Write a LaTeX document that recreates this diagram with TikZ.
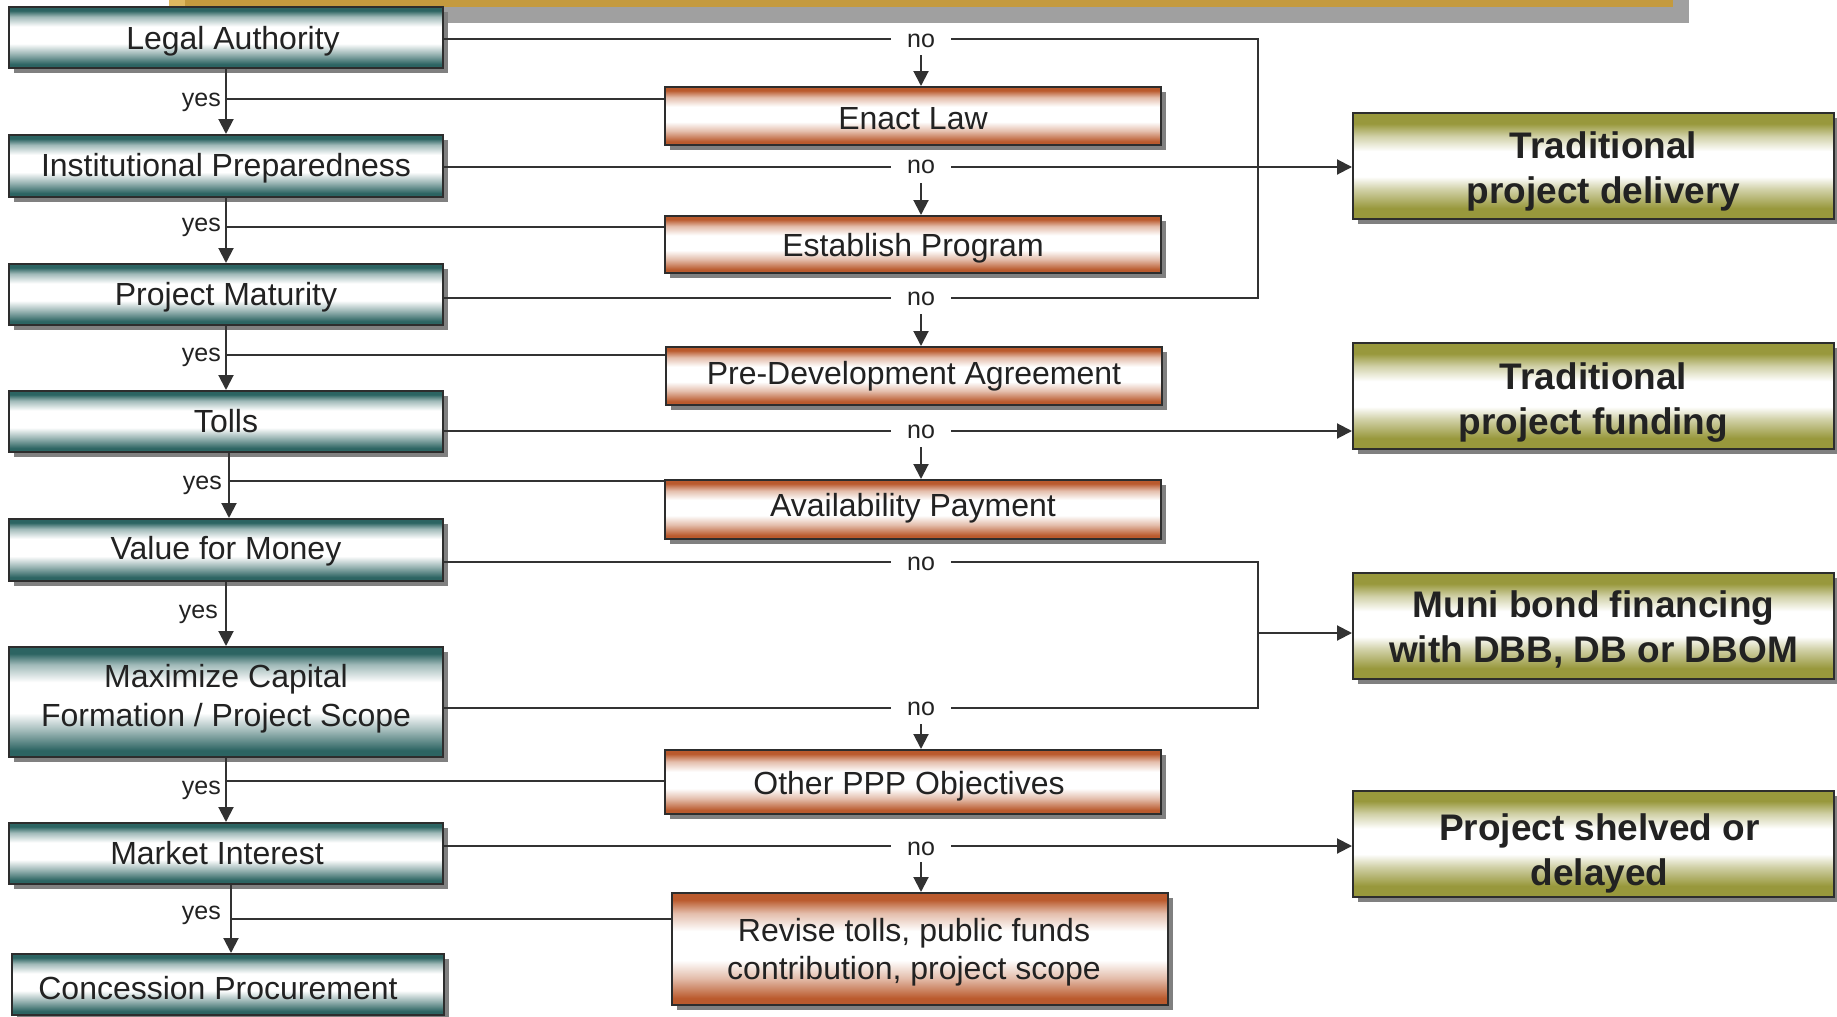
\documentclass[tikz,border=0pt]{standalone}
\usepackage{fontspec}
\setmainfont{Liberation Sans}
\usetikzlibrary{arrows.meta,shadows}
\definecolor{tealc}{RGB}{44,100,98}
\definecolor{orc}{RGB}{186,90,45}
\definecolor{olc}{RGB}{152,152,60}
\colorlet{tealm}{tealc!45!white}
\colorlet{orm}{orc!40!white}
\colorlet{olm}{olc!45!white}
\definecolor{goldc}{RGB}{196,154,62}
\definecolor{goldl}{RGB}{222,184,96}
\definecolor{topshad}{RGB}{160,160,160}
\definecolor{shadc}{RGB}{128,128,128}
\definecolor{linec}{RGB}{50,50,50}
\definecolor{bordc}{RGB}{45,45,45}
\definecolor{txtc}{RGB}{34,34,34}
\pgfdeclareverticalshading{tealsh}{100bp}{color(0bp)=(tealc); color(25bp)=(tealc); color(28bp)=(tealc); color(37bp)=(tealm); color(45bp)=(white); color(59bp)=(white); color(67bp)=(tealm); color(72bp)=(tealc); color(75bp)=(tealc); color(100bp)=(tealc)}
\pgfdeclareverticalshading{orsh}{100bp}{color(0bp)=(orc); color(25bp)=(orc); color(28bp)=(orc); color(37bp)=(orm); color(45bp)=(white); color(58bp)=(white); color(66bp)=(orm); color(72bp)=(orc); color(75bp)=(orc); color(100bp)=(orc)}
\pgfdeclareverticalshading{olsh}{100bp}{color(0bp)=(olc); color(25bp)=(olc); color(30bp)=(olc); color(39bp)=(olm); color(45bp)=(white); color(57bp)=(white); color(64bp)=(olm); color(70bp)=(olc); color(75bp)=(olc); color(100bp)=(olc)}
% lower a text inside its node without changing the node's size
\newcommand{\dn}[2]{\raisebox{-#1}[\height][\depth]{#2}}
\newcommand{\twol}[2]{\begin{tabular}{@{}c@{}}#1\\#2\end{tabular}}
\begin{document}
\begin{tikzpicture}[x=1pt,y=-1pt,
  ln/.style={draw=linec,line width=2pt},
  arr/.style={ln,-{Triangle[length=15pt,width=15pt]}},
  bx/.style={draw=bordc,line width=2pt,inner sep=0pt,text=txtc,shade,
    drop shadow={shadow xshift=5pt,shadow yshift=-5pt,fill=shadc,opacity=1}},
  lbox/.style={bx,shading=tealsh,minimum width=434pt,font=\fontsize{32}{39}\selectfont},
  obox/.style={bx,shading=orsh,minimum width=496pt,font=\fontsize{32}{38}\selectfont},
  gbox/.style={bx,shading=olsh,minimum width=481pt,minimum height=106pt,font=\bfseries\fontsize{37}{45}\selectfont},
  nolab/.style={inner xsep=16pt,inner ysep=9pt,text=txtc,font=\fontsize{25}{30}\selectfont},
  yeslab/.style={inner sep=0pt,anchor=east,text=txtc,font=\fontsize{25}{30}\selectfont}]
\useasboundingbox (0,0) rectangle (1837,1017);
% top banner (cut off)
\fill[topshad] (185,-10) rectangle (1689,23);
\fill[goldc] (169,-10) rectangle (1673,7);
\fill[goldl] (169,-10) rectangle (185,7);
% left column
\node[lbox,minimum height=61pt] (L1) at (226,37.5) {\dn{3.5pt}{\hspace*{14pt}Legal Authority}};
\node[lbox,minimum height=62pt] (L2) at (226,166) {\dn{2.3pt}{Institutional Preparedness}};
\node[lbox,minimum height=61pt] (L3) at (226,294.5) {\dn{2.3pt}{Project Maturity}};
\node[lbox,minimum height=61pt] (L4) at (226,421.5) {Tolls};
\node[lbox,minimum height=62pt] (L5) at (226,550) {\dn{1pt}{Value for Money}};
\node[lbox,minimum height=110pt] (L6) at (226,702) {\dn{-2.5pt}{\twol{Maximize Capital}{Formation / Project Scope}}};
\node[lbox,minimum height=61pt] (L7) at (226,853.5) {Market Interest\hspace*{18pt}};
\node[lbox,minimum width=432pt,minimum height=61pt] (L8) at (228,984.5) {\dn{3.5pt}{Concession Procurement\hspace*{20pt}}};
% middle column
\node[obox,minimum height=58pt] (O1) at (913,116) {\dn{2.3pt}{Enact Law}};
\node[obox,minimum height=57pt] (O2) at (913,244.5) {\dn{3.5pt}{Establish Program}};
\node[obox,minimum height=58pt] (O3) at (914,376) {Pre-Development Agreement};
\node[obox,minimum height=59pt] (O4) at (913,509.5) {\dn{-1pt}{Availability Payment}};
\node[obox,minimum height=64pt] (O5) at (913,782) {\dn{4.5pt}{Other PPP Objectives\hspace*{8pt}}};
\node[obox,minimum height=112pt] (O6) at (920,949) {\dn{4pt}{\twol{Revise tolls, public funds\hspace*{12pt}}{contribution, project scope\hspace*{12pt}}}};
% right column
\node[gbox] (G1) at (1593.5,166) {\dn{6pt}{\twol{\hspace*{20pt}Traditional}{\hspace*{20pt}project delivery}}};
\node[gbox] (G2) at (1593.5,396) {\dn{7pt}{\twol{Traditional}{project funding}}};
\node[gbox] (G3) at (1593.5,626) {\dn{5pt}{\twol{Muni bond financing}{with DBB, DB or DBOM}}};
\node[gbox] (G4) at (1593.5,843.5) {\dn{10pt}{\twol{\hspace*{12pt}Project shelved or}{\hspace*{12pt}delayed}}};
% no labels
\node[nolab] (n1) at (921,39) {\dn{1.5pt}{no}};
\node[nolab] (n2) at (921,167) {no};
\node[nolab] (n3) at (921,298) {\dn{1pt}{no}};
\node[nolab] (n4) at (921,431) {\dn{1pt}{no}};
\node[nolab] (n5) at (921,562) {\dn{2pt}{no}};
\node[nolab] (n6) at (921,708) {\dn{1pt}{no}};
\node[nolab] (n7) at (921,846) {\dn{3pt}{no}};
% corner coordinates
\coordinate (r1) at (1258,39);
\coordinate (r3) at (1258,298);
\coordinate (r5) at (1258,562);
\coordinate (r6) at (1258,708);
\coordinate (r7) at (1258,633);
% yes branches
\draw[arr] (L1.south) -- (L2.north);
\draw[arr] (L2.south) -- (L3.north);
\draw[arr] (L3.south) -- (L4.north);
\draw[arr] ([xshift=3pt]L4.south) -- ([xshift=3pt]L5.north);
\draw[arr] (L5.south) -- (L6.north);
\draw[arr] (L6.south) -- (L7.north);
\draw[arr] ([xshift=5pt]L7.south) -- ([xshift=3pt]L8.north);
\coordinate (y1) at (226,99);
\coordinate (y2) at (226,227);
\coordinate (y3) at (226,355);
\coordinate (y4) at (229,481);
\coordinate (y6) at (226,781);
\coordinate (y7) at (231,919);
\draw[ln] (y1) -- (O1.west |- y1);
\draw[ln] (y2) -- (O2.west |- y2);
\draw[ln] (y3) -- (O3.west |- y3);
\draw[ln] (y4) -- (O4.west |- y4);
\draw[ln] (y6) -- (O5.west |- y6);
\draw[ln] (y7) -- (O6.west |- y7);
\node[yeslab] (t1) at (221,102.5) {yes};
\node[yeslab] (t2) at (221,227.5) {yes};
\node[yeslab] (t3) at (221,357.5) {yes};
\node[yeslab] (t4) at (222,485.5) {yes};
\node[yeslab] (t5) at (218,614.5) {yes};
\node[yeslab] (t6) at (221,790.5) {yes};
\node[yeslab] (t7) at (221,915) {yes};
% no branches
\draw[ln] (L1.east |- n1) -- (n1.west);
\draw[ln] (n1.east) -- (r1) -- (r3) -- (n3.east);
\draw[ln] (L3.east |- n3) -- (n3.west);
\draw[ln] (L2.east |- n2) -- (n2.west);
\draw[arr] (n2.east) -- (G1.west |- n2);
\draw[ln] (L4.east |- n4) -- (n4.west);
\draw[arr] (n4.east) -- (G2.west |- n4);
\draw[ln] (L5.east |- n5) -- (n5.west);
\draw[ln] (L6.east |- n6) -- (n6.west);
\draw[ln] (n5.east) -- (r5) -- (r6) -- (n6.east);
\draw[arr] (r7) -- (G3.west |- r7);
\draw[ln] (L7.east |- n7) -- (n7.west);
\draw[arr] (n7.east) -- (G4.west |- n7);
\draw[arr] (n1.south) -- (n1.south |- O1.north);
\draw[arr] (n2.south) -- (n2.south |- O2.north);
\draw[arr] (n3.south) -- (n3.south |- O3.north);
\draw[arr] (n4.south) -- (n4.south |- O4.north);
\draw[arr] (n6.south) -- (n6.south |- O5.north);
\draw[arr] (n7.south) -- (n7.south |- O6.north);
\end{tikzpicture}
\end{document}
